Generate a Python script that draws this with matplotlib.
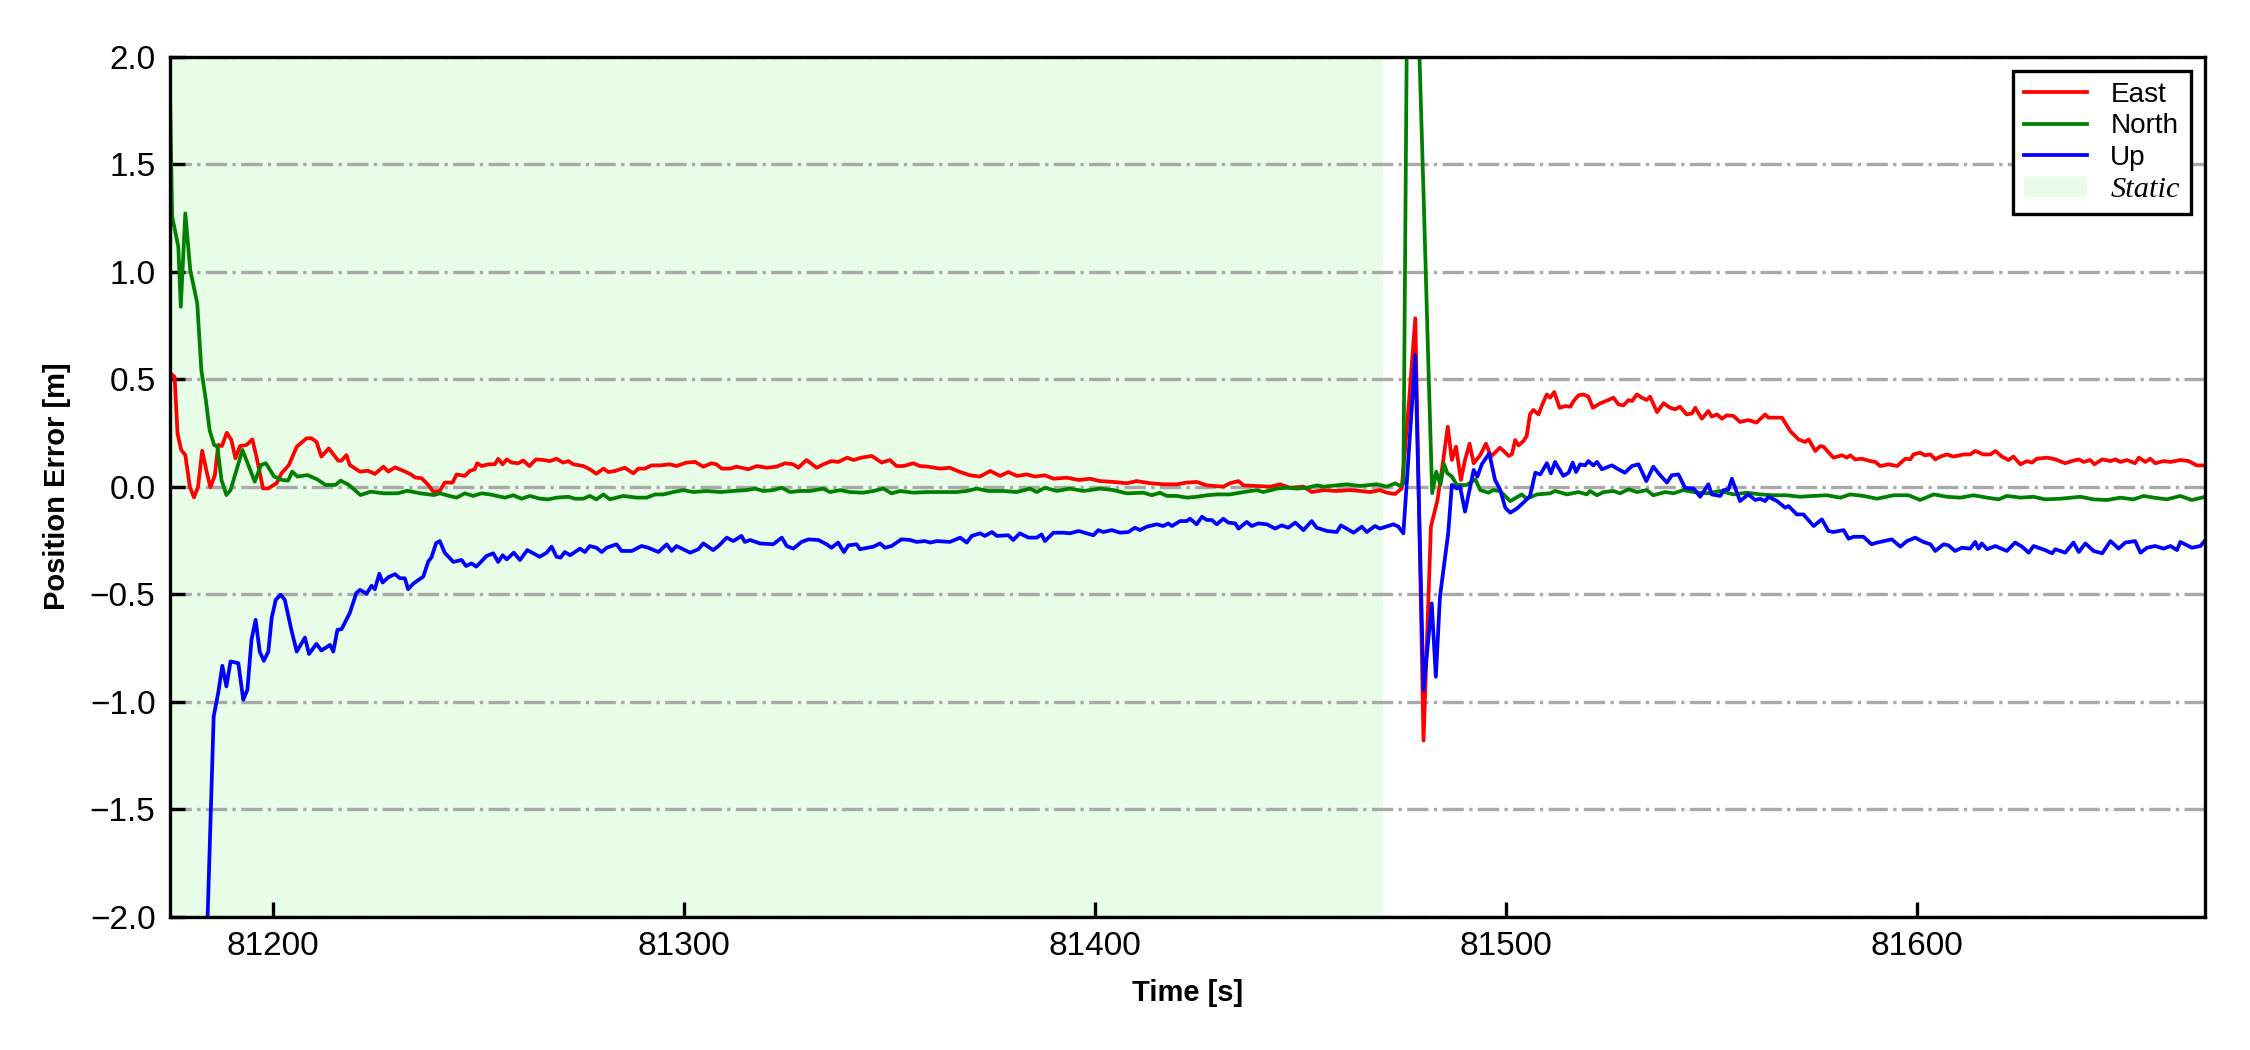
import numpy as np
import matplotlib
matplotlib.use("Agg")
import matplotlib.pyplot as plt

plt.rcParams['font.family'] = ['Liberation Sans', 'DejaVu Sans']

# East error
t_east = [81175.0, 81175.5, 81176.1, 81176.8, 81177.7, 81178.7, 81179.8, 81180.8, 81181.8, 81182.8,
          81183.8, 81184.8, 81185.9, 81186.7, 81187.6, 81188.8, 81189.9, 81190.9, 81192.0, 81193.6,
          81195.0, 81196.0, 81197.6, 81198.9, 81200.9, 81202.1, 81203.9, 81205.8, 81208.2, 81209.4,
          81210.6, 81211.8, 81213.6, 81215.9, 81216.7, 81217.9, 81218.7, 81221.2, 81223.2, 81224.8,
          81226.9, 81228.1, 81229.7, 81231.7, 81233.4, 81234.6, 81236.2, 81237.8, 81239.0, 81240.6,
          81241.8, 81243.7, 81244.7, 81246.7, 81247.9, 81249.1, 81249.7, 81250.8, 81252.4, 81254.0,
          81254.8, 81255.9, 81256.9, 81258.1, 81259.7, 81260.9, 81262.4, 81264.0, 81265.8, 81267.4,
          81269.0, 81270.6, 81271.9, 81273.1, 81275.5, 81277.1, 81278.7, 81280.4, 81281.6, 81283.2,
          81285.6, 81287.7, 81288.9, 81290.5, 81292.1, 81294.2, 81296.6, 81298.2, 81300.6, 81302.7,
          81304.7, 81306.7, 81307.9, 81309.2, 81311.2, 81312.8, 81315.7, 81317.7, 81320.1, 81322.5,
          81324.6, 81326.6, 81327.8, 81329.8, 81332.3, 81333.9, 81335.9, 81337.5, 81339.7, 81341.2,
          81343.2, 81345.7, 81348.1, 81350.1, 81351.7, 81353.4, 81355.8, 81357.4, 81359.4, 81362.3,
          81364.7, 81367.2, 81369.6, 81372.0, 81374.5, 81376.9, 81378.9, 81381.0, 81383.4, 81385.4,
          81387.8, 81389.9, 81393.1, 81396.0, 81398.8, 81401.2, 81404.5, 81407.7, 81410.1, 81413.4,
          81416.6, 81419.9, 81422.3, 81424.7, 81427.2, 81431.2, 81432.8, 81434.9, 81436.1, 81439.3,
          81442.6, 81445.0, 81447.4, 81450.7, 81452.7, 81455.6, 81458.8, 81462.0, 81464.5, 81466.9,
          81469.3, 81471.0, 81473.0, 81474.6, 81476.3, 81477.9, 81479.9, 81481.7, 81483.3, 81484.6,
          81485.8, 81486.8, 81487.8, 81489.0, 81490.0, 81491.1, 81492.1, 81493.7, 81495.1, 81496.3,
          81498.5, 81499.4, 81500.6, 81501.4, 81502.2, 81503.0, 81504.2, 81505.0, 81505.8, 81506.6,
          81507.9, 81508.7, 81509.9, 81510.7, 81511.7, 81513.0, 81514.4, 81515.6, 81516.4, 81517.6,
          81518.8, 81520.0, 81521.1, 81522.9, 81524.9, 81526.1, 81527.3, 81528.5, 81529.8, 81530.6,
          81531.8, 81533.0, 81534.2, 81535.0, 81536.7, 81538.3, 81539.9, 81541.1, 81542.3, 81543.9,
          81545.2, 81546.0, 81547.6, 81549.2, 81550.0, 81551.3, 81552.5, 81553.7, 81555.3, 81556.9,
          81558.9, 81560.9, 81563.0, 81563.8, 81567.1, 81569.1, 81571.1, 81572.7, 81573.6, 81575.2,
          81576.4, 81577.2, 81579.6, 81581.7, 81582.9, 81583.7, 81584.9, 81586.5, 81588.6, 81589.8,
          81591.0, 81593.0, 81595.1, 81597.1, 81598.3, 81599.1, 81600.7, 81601.9, 81603.2, 81604.4,
          81605.6, 81607.2, 81608.8, 81611.3, 81612.9, 81614.1, 81616.1, 81617.8, 81619.0, 81620.6,
          81622.2, 81623.4, 81625.1, 81626.7, 81627.9, 81629.1, 81631.6, 81633.6, 81636.0, 81637.6,
          81639.3, 81640.5, 81642.1, 81643.1, 81645.0, 81647.0, 81648.2, 81649.4, 81651.0, 81653.0,
          81653.9, 81655.5, 81656.7, 81657.9, 81659.9, 81661.6, 81664.0, 81666.0, 81668.0, 81670.1]
east = [0.53, 0.52, 0.51, 0.248, 0.171, 0.147, 0.0, -0.05, 0.0, 0.167,
        0.078, -0.003, 0.054, 0.194, 0.189, 0.251, 0.217, 0.132, 0.189, 0.194,
        0.22, 0.14, -0.008, -0.008, 0.016, 0.062, 0.101, 0.186, 0.225, 0.225,
        0.209, 0.14, 0.178, 0.121, 0.121, 0.147, 0.101, 0.07, 0.074, 0.059,
        0.093, 0.07, 0.09, 0.074, 0.059, 0.043, 0.039, 0.008, -0.023, -0.02,
        0.019, 0.019, 0.057, 0.05, 0.073, 0.081, 0.109, 0.096, 0.104, 0.104,
        0.13, 0.104, 0.127, 0.112, 0.109, 0.122, 0.096, 0.127, 0.124, 0.119,
        0.13, 0.112, 0.119, 0.104, 0.096, 0.081, 0.06, 0.084, 0.068, 0.073,
        0.088, 0.062, 0.084, 0.084, 0.099, 0.099, 0.104, 0.096, 0.112, 0.115,
        0.093, 0.109, 0.104, 0.084, 0.084, 0.093, 0.081, 0.096, 0.088, 0.093,
        0.109, 0.104, 0.088, 0.124, 0.088, 0.104, 0.119, 0.115, 0.135, 0.124,
        0.135, 0.143, 0.112, 0.124, 0.096, 0.096, 0.109, 0.096, 0.093, 0.084,
        0.088, 0.068, 0.053, 0.047, 0.073, 0.05, 0.068, 0.05, 0.057, 0.047,
        0.053, 0.037, 0.042, 0.031, 0.037, 0.026, 0.022, 0.016, 0.026, 0.016,
        0.011, 0.011, 0.019, 0.022, 0.006, 0.0, 0.016, 0.026, 0.006, 0.003,
        0.0, 0.011, -0.005, 0.0, -0.025, -0.016, -0.02, -0.016, -0.02, -0.025,
        -0.016, -0.028, -0.034, -0.008, 0.38, 0.783, -1.181, -0.186, -0.062, 0.109,
        0.279, 0.124, 0.186, 0.031, 0.124, 0.2, 0.109, 0.147, 0.2, 0.14,
        0.181, 0.166, 0.143, 0.15, 0.217, 0.192, 0.212, 0.236, 0.336, 0.357,
        0.336, 0.378, 0.429, 0.414, 0.44, 0.367, 0.375, 0.372, 0.398, 0.425,
        0.429, 0.419, 0.367, 0.388, 0.403, 0.414, 0.383, 0.378, 0.403, 0.398,
        0.429, 0.414, 0.403, 0.419, 0.347, 0.388, 0.367, 0.36, 0.372, 0.336,
        0.341, 0.367, 0.316, 0.352, 0.326, 0.336, 0.316, 0.332, 0.329, 0.301,
        0.31, 0.298, 0.336, 0.321, 0.321, 0.259, 0.22, 0.208, 0.22, 0.166,
        0.189, 0.186, 0.135, 0.146, 0.135, 0.146, 0.127, 0.13, 0.119, 0.115,
        0.096, 0.104, 0.096, 0.13, 0.127, 0.15, 0.158, 0.146, 0.15, 0.127,
        0.14, 0.15, 0.14, 0.15, 0.15, 0.166, 0.15, 0.15, 0.166, 0.14,
        0.124, 0.14, 0.104, 0.119, 0.112, 0.13, 0.135, 0.127, 0.109, 0.119,
        0.127, 0.115, 0.124, 0.104, 0.127, 0.119, 0.127, 0.115, 0.124, 0.109,
        0.135, 0.115, 0.13, 0.109, 0.119, 0.115, 0.124, 0.119, 0.099, 0.099]

# North error
t_north = [81175.0, 81175.5, 81177.0, 81177.6, 81178.7, 81179.9, 81181.6, 81182.6, 81183.7, 81184.6,
           81185.7, 81186.5, 81187.5, 81188.7, 81189.7, 81192.6, 81195.6, 81197.1, 81198.3, 81200.3,
           81202.3, 81203.7, 81204.7, 81206.0, 81208.4, 81210.8, 81212.8, 81215.2, 81216.5, 81218.5,
           81221.3, 81223.8, 81227.0, 81230.3, 81232.7, 81235.9, 81239.2, 81240.6, 81242.3, 81244.7,
           81246.7, 81248.7, 81250.8, 81252.8, 81256.4, 81258.5, 81260.5, 81262.5, 81265.0, 81267.0,
           81269.0, 81271.9, 81273.5, 81275.5, 81277.1, 81278.7, 81280.4, 81282.0, 81285.2, 81288.5,
           81290.9, 81293.0, 81295.0, 81297.4, 81299.8, 81302.3, 81305.5, 81308.8, 81312.0, 81315.2,
           81317.3, 81319.3, 81321.7, 81323.8, 81325.8, 81328.2, 81330.7, 81333.9, 81335.5, 81338.0,
           81340.4, 81343.6, 81346.1, 81348.5, 81350.5, 81352.6, 81355.8, 81359.0, 81363.1, 81366.3,
           81368.8, 81371.2, 81374.0, 81377.7, 81380.9, 81384.2, 81385.8, 81387.8, 81390.7, 81393.9,
           81397.2, 81401.2, 81404.5, 81407.7, 81411.8, 81413.8, 81415.8, 81417.4, 81419.9, 81422.3,
           81424.7, 81427.2, 81429.6, 81432.8, 81436.1, 81439.3, 81440.9, 81444.2, 81446.6, 81449.1,
           81451.5, 81454.0, 81455.6, 81458.8, 81461.2, 81464.5, 81468.5, 81471.0, 81473.0, 81474.2,
           81475.0, 81476.0, 81477.0, 81478.0, 81479.0, 81480.0, 81481.0, 81482.0, 81483.0, 81484.0,
           81484.9, 81485.7, 81486.8, 81488.0, 81490.4, 81492.5, 81493.7, 81495.7, 81496.9, 81498.5,
           81501.0, 81503.8, 81505.0, 81507.5, 81510.7, 81511.9, 81514.8, 81517.6, 81519.6, 81520.4,
           81522.1, 81523.7, 81526.1, 81527.7, 81529.8, 81531.8, 81534.2, 81535.8, 81538.7, 81540.7,
           81543.1, 81545.6, 81548.8, 81552.1, 81555.3, 81558.6, 81561.8, 81565.0, 81568.3, 81571.5,
           81574.8, 81578.0, 81581.3, 81583.7, 81586.9, 81590.2, 81594.2, 81597.9, 81600.7, 81604.0,
           81607.2, 81610.5, 81613.7, 81617.0, 81619.8, 81621.8, 81625.1, 81628.3, 81631.1, 81634.8,
           81639.7, 81642.9, 81646.2, 81649.4, 81652.6, 81655.1, 81657.5, 81660.7, 81664.0, 81666.8,
           81670.1]
north = [1.8, 1.256, 1.116, 0.837, 1.271, 1.008, 0.853, 0.543, 0.403, 0.264,
         0.194, 0.186, 0.031, -0.039, -0.016, 0.171, 0.023, 0.101, 0.109, 0.047,
         0.031, 0.028, 0.07, 0.047, 0.054, 0.034, 0.008, 0.008, 0.028, 0.008,
         -0.039, -0.023, -0.031, -0.031, -0.019, -0.031, -0.039, -0.031, -0.04, -0.051,
         -0.031, -0.043, -0.031, -0.036, -0.051, -0.04, -0.056, -0.043, -0.056, -0.059,
         -0.051, -0.047, -0.056, -0.056, -0.043, -0.059, -0.036, -0.059, -0.043, -0.051,
         -0.051, -0.036, -0.036, -0.025, -0.016, -0.025, -0.02, -0.025, -0.02, -0.016,
         -0.009, -0.02, -0.016, -0.005, -0.025, -0.02, -0.02, -0.009, -0.025, -0.016,
         -0.025, -0.028, -0.02, -0.009, -0.031, -0.02, -0.028, -0.025, -0.025, -0.025,
         -0.02, -0.009, -0.02, -0.02, -0.025, -0.009, -0.025, -0.005, -0.02, -0.009,
         -0.02, -0.009, -0.016, -0.031, -0.028, -0.04, -0.028, -0.043, -0.043, -0.051,
         -0.047, -0.04, -0.036, -0.036, -0.025, -0.016, -0.025, -0.009, -0.005, -0.009,
         -0.005, 0.006, 0.0, 0.006, 0.011, 0.003, 0.011, 0.0, 0.016, 0.003,
         0.016, 2.5, 3.0, 2.6, 1.95, 1.3, 0.62, -0.03, 0.07, 0.008,
         0.105, 0.062, 0.047, 0.008, 0.008, 0.034, -0.016, -0.028, -0.016, -0.02,
         -0.067, -0.036, -0.056, -0.036, -0.031, -0.02, -0.036, -0.025, -0.036, -0.02,
         -0.04, -0.025, -0.02, -0.031, -0.012, -0.025, -0.016, -0.04, -0.025, -0.031,
         -0.016, -0.025, -0.031, -0.02, -0.036, -0.028, -0.036, -0.04, -0.04, -0.047,
         -0.043, -0.04, -0.051, -0.036, -0.043, -0.056, -0.04, -0.04, -0.062, -0.036,
         -0.047, -0.051, -0.04, -0.051, -0.059, -0.043, -0.051, -0.047, -0.059, -0.056,
         -0.047, -0.059, -0.062, -0.051, -0.059, -0.043, -0.051, -0.059, -0.043, -0.062,
         -0.047]

# Up error
t_up = [81175.0, 81184.0, 81185.6, 81186.7, 81187.7, 81188.7, 81189.7, 81191.6, 81192.8, 81193.8,
        81194.8, 81195.8, 81196.8, 81197.8, 81198.9, 81199.7, 81200.7, 81201.9, 81202.9, 81204.5,
        81205.8, 81207.8, 81208.8, 81210.6, 81211.8, 81213.9, 81214.7, 81215.7, 81216.7, 81218.7,
        81220.3, 81221.2, 81222.8, 81224.0, 81224.8, 81225.9, 81226.7, 81228.1, 81229.7, 81230.9,
        81232.1, 81232.9, 81234.1, 81236.6, 81237.8, 81238.6, 81239.7, 81240.6, 81241.8, 81243.9,
        81245.9, 81247.0, 81248.3, 81249.5, 81252.0, 81253.6, 81254.8, 81255.9, 81256.9, 81258.6,
        81260.1, 81261.9, 81264.9, 81266.6, 81267.8, 81269.0, 81270.0, 81271.0, 81272.3, 81274.7,
        81275.9, 81277.1, 81278.7, 81280.0, 81281.2, 81283.6, 81284.8, 81287.3, 81289.7, 81291.3,
        81293.8, 81295.8, 81297.0, 81298.2, 81301.5, 81303.5, 81304.7, 81307.1, 81308.4, 81310.4,
        81312.0, 81314.0, 81314.8, 81316.1, 81318.5, 81321.7, 81323.8, 81325.0, 81326.6, 81328.6,
        81330.3, 81332.7, 81334.7, 81335.9, 81337.5, 81338.9, 81340.0, 81342.0, 81342.8, 81346.1,
        81347.7, 81348.9, 81350.5, 81352.9, 81355.0, 81356.6, 81358.6, 81359.9, 81361.5, 81364.7,
        81367.2, 81368.8, 81370.0, 81372.0, 81373.2, 81374.9, 81376.1, 81378.9, 81380.1, 81381.7,
        81383.8, 81385.8, 81387.0, 81387.8, 81389.9, 81392.3, 81393.9, 81396.0, 81398.0, 81399.6,
        81400.8, 81402.0, 81404.1, 81406.1, 81408.1, 81409.7, 81410.9, 81412.6, 81415.0, 81416.6,
        81417.8, 81418.7, 81420.7, 81422.3, 81423.1, 81424.7, 81426.0, 81427.2, 81428.4, 81429.6,
        81431.2, 81432.4, 81434.1, 81434.9, 81436.9, 81438.1, 81439.7, 81441.8, 81443.8, 81445.4,
        81447.0, 81448.7, 81450.7, 81452.7, 81453.9, 81456.4, 81458.8, 81459.8, 81461.2, 81462.9,
        81464.9, 81466.1, 81468.1, 81469.3, 81472.6, 81473.8, 81475.0, 81477.9, 81479.9, 81481.9,
        81482.9, 81483.9, 81485.9, 81486.8, 81488.0, 81488.8, 81490.0, 81492.1, 81493.0, 81494.1,
        81495.9, 81497.3, 81498.5, 81499.8, 81501.0, 81502.6, 81504.6, 81505.8, 81507.1, 81508.3,
        81509.9, 81510.9, 81511.9, 81513.9, 81515.2, 81516.2, 81517.0, 81518.0, 81519.2, 81520.0,
        81521.2, 81522.1, 81523.3, 81525.7, 81527.3, 81528.9, 81530.6, 81532.2, 81534.1, 81535.8,
        81537.3, 81539.1, 81540.3, 81541.9, 81543.5, 81545.6, 81547.2, 81549.2, 81550.0, 81552.1,
        81552.9, 81554.1, 81554.9, 81556.9, 81558.9, 81560.6, 81561.8, 81563.0, 81563.8, 81565.9,
        81567.9, 81568.7, 81570.7, 81572.3, 81574.8, 81576.8, 81578.4, 81579.6, 81582.1, 81583.3,
        81584.5, 81586.9, 81588.9, 81590.2, 81591.0, 81593.8, 81595.9, 81597.5, 81599.5, 81601.5,
        81603.2, 81604.4, 81606.4, 81607.6, 81609.2, 81610.9, 81612.9, 81614.1, 81614.9, 81615.7,
        81617.0, 81619.0, 81621.8, 81623.8, 81625.5, 81627.1, 81628.3, 81631.1, 81632.8, 81633.6,
        81636.0, 81638.0, 81639.3, 81640.9, 81642.9, 81645.0, 81647.0, 81649.0, 81650.6, 81653.0,
        81654.3, 81655.9, 81657.9, 81659.9, 81661.6, 81663.2, 81664.0, 81666.8, 81668.9, 81670.1]
up = [-3.8, -2.08, -1.069, -0.96, -0.833, -0.929, -0.813, -0.821, -0.991, -0.945,
      -0.712, -0.619, -0.767, -0.81, -0.767, -0.612, -0.526, -0.503, -0.526, -0.666,
      -0.767, -0.702, -0.778, -0.731, -0.762, -0.736, -0.767, -0.666, -0.663, -0.588,
      -0.495, -0.48, -0.498, -0.461, -0.477, -0.405, -0.446, -0.421, -0.407, -0.426,
      -0.426, -0.477, -0.452, -0.418, -0.348, -0.328, -0.263, -0.253, -0.307, -0.35,
      -0.341, -0.369, -0.357, -0.372, -0.322, -0.31, -0.35, -0.319, -0.338, -0.307,
      -0.341, -0.295, -0.326, -0.307, -0.279, -0.326, -0.33, -0.304, -0.319, -0.288,
      -0.304, -0.276, -0.284, -0.304, -0.284, -0.268, -0.299, -0.299, -0.276, -0.284,
      -0.304, -0.268, -0.299, -0.276, -0.307, -0.291, -0.264, -0.295, -0.276, -0.237,
      -0.253, -0.229, -0.257, -0.248, -0.264, -0.268, -0.237, -0.276, -0.288, -0.257,
      -0.245, -0.248, -0.268, -0.284, -0.26, -0.304, -0.273, -0.268, -0.291, -0.279,
      -0.264, -0.284, -0.276, -0.245, -0.248, -0.257, -0.253, -0.26, -0.253, -0.257,
      -0.237, -0.26, -0.229, -0.217, -0.229, -0.211, -0.229, -0.226, -0.248, -0.217,
      -0.237, -0.237, -0.222, -0.253, -0.214, -0.214, -0.217, -0.206, -0.217, -0.226,
      -0.202, -0.211, -0.202, -0.214, -0.211, -0.191, -0.202, -0.186, -0.175, -0.183,
      -0.171, -0.183, -0.16, -0.16, -0.149, -0.175, -0.14, -0.155, -0.155, -0.175,
      -0.149, -0.167, -0.171, -0.195, -0.164, -0.183, -0.171, -0.175, -0.195, -0.18,
      -0.191, -0.167, -0.202, -0.16, -0.191, -0.206, -0.211, -0.18, -0.195, -0.214,
      -0.186, -0.211, -0.183, -0.195, -0.175, -0.186, -0.217, 0.612, -0.946, -0.543,
      -0.884, -0.512, -0.217, 0.008, -0.008, 0.0, -0.116, 0.078, 0.047, 0.105,
      0.155, 0.031, -0.012, -0.098, -0.121, -0.102, -0.067, -0.043, 0.065, 0.057,
      0.109, 0.062, 0.115, 0.05, 0.065, 0.112, 0.068, 0.104, 0.099, 0.119,
      0.099, 0.115, 0.081, 0.099, 0.081, 0.065, 0.096, 0.104, 0.026, 0.093,
      0.057, 0.019, 0.053, 0.057, -0.005, -0.009, -0.047, 0.011, -0.036, -0.043,
      -0.016, -0.012, 0.037, -0.067, -0.036, -0.062, -0.056, -0.067, -0.047, -0.067,
      -0.098, -0.09, -0.129, -0.129, -0.183, -0.152, -0.206, -0.211, -0.202, -0.242,
      -0.233, -0.233, -0.268, -0.26, -0.257, -0.245, -0.279, -0.253, -0.237, -0.257,
      -0.268, -0.299, -0.268, -0.273, -0.299, -0.284, -0.288, -0.257, -0.288, -0.264,
      -0.291, -0.276, -0.299, -0.26, -0.279, -0.307, -0.276, -0.295, -0.31, -0.291,
      -0.307, -0.26, -0.304, -0.264, -0.299, -0.31, -0.253, -0.288, -0.26, -0.253,
      -0.307, -0.284, -0.276, -0.288, -0.276, -0.295, -0.257, -0.284, -0.276, -0.248]

static_span = (81175, 81470)
x_lim = (81175, 81670)
y_lim = (-2.0, 2.0)
x_ticks = [81200, 81300, 81400, 81500, 81600]
y_ticks = np.arange(-2.0, 2.01, 0.5)

fig = plt.figure(figsize=(7.5, 3.5), dpi=300)
ax = fig.add_axes([0.0756, 0.127, 0.9044, 0.819])

# span under grid (grid at 1.5 with axisbelow='line')
span = ax.axvspan(static_span[0], static_span[1], color='#e8fde8', lw=0, zorder=0.5)
l1, = ax.plot(t_east, east, color='red', lw=0.9)
l2, = ax.plot(t_north, north, color='green', lw=0.9)
l3, = ax.plot(t_up, up, color='blue', lw=0.9)

ax.set_xlim(*x_lim)
ax.set_ylim(*y_lim)
ax.set_xticks(x_ticks)
ax.set_yticks(y_ticks)
ax.set_axisbelow('line')
ax.yaxis.grid(True, linestyle='-.', color='darkgray', lw=0.8)
ax.tick_params(direction='in', length=3.5, width=0.8, labelsize=8)
for s in ax.spines.values():
    s.set_linewidth(0.8)

ax.set_xlabel('Time [s]', fontsize=7, fontweight='bold', labelpad=4)
ax.set_ylabel('Position Error [m]', fontsize=7, fontweight='bold', labelpad=4.5)

leg = ax.legend([l1, l2, l3, span], ['East', 'North', 'Up', 'Static'], loc='upper right',
                fontsize=6.7, fancybox=False, edgecolor='black', framealpha=1,
                labelspacing=0.2, handlelength=2.25, handletextpad=0.85, borderpad=0.4)
leg.get_frame().set_linewidth(0.8)
st = leg.get_texts()[3]
st.set_family('Liberation Serif')
st.set_style('italic')
st.set_fontsize(7.3)

fig.savefig('out.png', dpi=300)
